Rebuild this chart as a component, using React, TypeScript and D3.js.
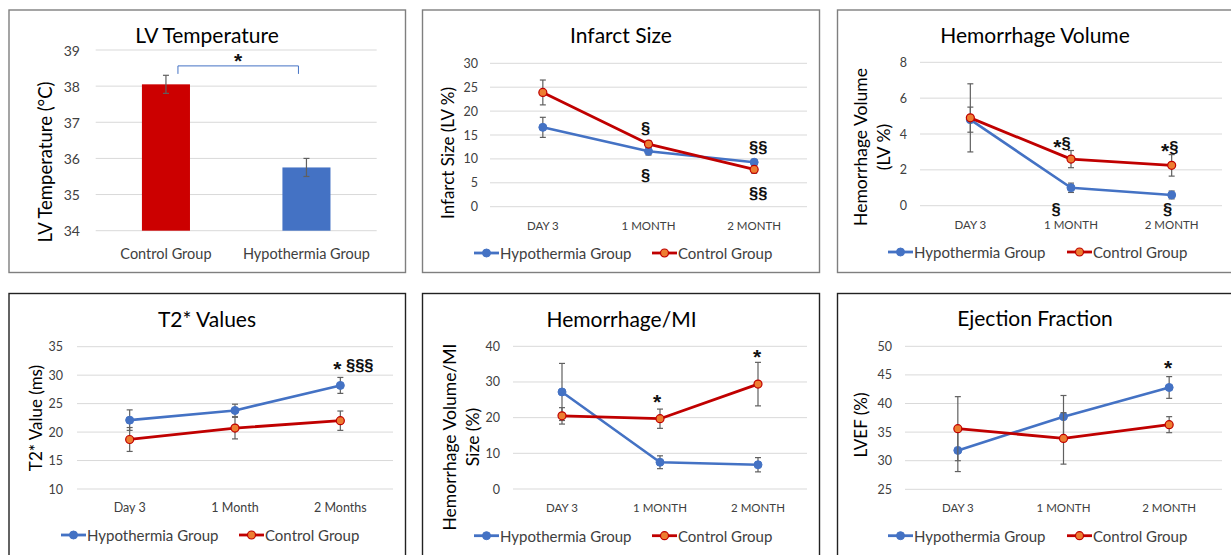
import React from 'react';
import * as d3 from 'd3';

// ---- data ----
const monthCats = ['DAY 3', '1 MONTH', '2 MONTH'];
const t2Cats = ['Day 3', '1 Month', '2 Months'];
const seriesNames = ['Hypothermia Group', 'Control Group'];

const lvGroups = ['Control Group', 'Hypothermia Group'];
const lvTemp = [38.05, 35.75];
const lvTempErr = [0.25, 0.25];
const lvTicks = [34, 35, 36, 37, 38, 39];

const infarctHypo = [16.6, 11.6, 9.3];
const infarctHypoErr = [2.1, 0.8, 0.6];
const infarctCtrl = [23.9, 13.1, 7.8];
const infarctCtrlErr = [2.6, 0.7, 0.8];
const infarctTicks = [0, 5, 10, 15, 20, 25, 30];

const hemVolHypo = [4.8, 1.0, 0.6];
const hemVolHypoErr = [0.7, 0.26, 0.22];
const hemVolCtrl = [4.9, 2.6, 2.25];
const hemVolCtrlErr = [1.9, 0.48, 0.6];
const hemVolTicks = [0, 2, 4, 6, 8];

const t2Hypo = [22.1, 23.8, 28.2];
const t2HypoErr = [1.8, 1.1, 1.4];
const t2Ctrl = [18.7, 20.7, 22.0];
const t2CtrlErr = [2.1, 1.9, 1.7];
const t2Ticks = [10, 15, 20, 25, 30, 35];

const hemMiHypo = [27.2, 7.5, 6.8];
const hemMiHypoErr = [8.0, 1.8, 2.0];
const hemMiCtrl = [20.5, 19.7, 29.4];
const hemMiCtrlErr = [2.3, 2.7, 6.1];
const hemMiTicks = [0, 10, 20, 30, 40];

const efHypo = [31.8, 37.7, 42.8];
const efHypoErr = [3.7, 3.7, 1.9];
const efCtrl = [35.6, 33.9, 36.3];
const efCtrlErr = [5.6, 4.5, 1.4];
const efTicks = [25, 30, 35, 40, 45, 50];

// significance marks: [category index, y value, text]
const infarctMarks: [number, number, string][] = [[1, 16.5, '§'], [1, 6.6, '§'], [2, 12.5, '§§'], [2, 2.9, '§§']];
const hemVolMarks: [number, number, string][] = [[1, 3.5, '*§'], [2, 3.27, '*§'], [1, -0.2, '§'], [2, -0.2, '§']];
const t2Marks: [number, number, string][] = [[2, 31.7, '* §§§']];
const hemMiMarks: [number, number, string][] = [[1, 25.5, '*'], [2, 38.2, '*']];
const efMarks: [number, number, string][] = [[2, 46.9, '*']];

// ---- styling ----
const FONT = "Lato, 'Open Sans', sans-serif";
const MARKFONT = "'Liberation Sans', Arial, sans-serif";
const BLUE = '#4472C4';
const RED = '#C00000';
const ORANGE = '#ED7D31';
const GRID = '#d9d9d9';
const ERR = '#606060';
const TXT = '#000';
const TICK = '#404040';

const Frame = ({ x, y, w, h, stroke }) => (
  <rect x={x} y={y} width={w} height={h} fill="white" stroke={stroke} strokeWidth={1.4} />
);

const Marker = ({ cx, cy, ctrl }) =>
  ctrl ? <circle cx={cx} cy={cy} r={4} fill={ORANGE} stroke={RED} strokeWidth={1.2} />
       : <circle cx={cx} cy={cy} r={4} fill={BLUE} stroke={BLUE} strokeWidth={1} />;

const YTitle = ({ x, y, lines, size }) => (
  <text transform={`translate(${x},${y}) rotate(-90)`} textAnchor="middle" fontSize={size} fill={TXT} fontFamily={FONT}>
    {lines.map((l, i) => (
      <tspan key={i} x={0} dy={i === 0 ? `${-(lines.length - 1) * 0.65 + 0.35}em` : '1.3em'}>{l}</tspan>
    ))}
  </text>
);

const Mark = ({ x, y, text }) => (
  <text x={x} y={y} textAnchor="middle" dominantBaseline="central" fontSize={16.5} fontWeight="bold"
    fontFamily={MARKFONT} fill="#111">
    {text.split('').map((ch, i) =>
      ch === '*' ? <tspan key={i} fontSize={21} dy={i === 0 ? 3 : 0}>*</tspan>
                 : <tspan key={i} dy={i > 0 && text[i - 1] === '*' ? -3 : 0}>{ch}</tspan>
    )}
  </text>
);

const LinePanel = ({ cfg }) => {
  const { cats, hypo, hypoErr, ctrl, ctrlErr, ticks, marks, plot, title, ytitle, legend, tickRight } = cfg;
  const x = d3.scalePoint().domain(cats).range([plot.x0, plot.x1]).padding(0.5);
  const y = d3.scaleLinear().domain([ticks[0], ticks[ticks.length - 1]]).range([plot.y1, plot.y0]);
  const line = d3.line<number>().x((_, i) => x(cats[i])).y(d => y(d));
  const series = [
    { vals: hypo, err: hypoErr, color: BLUE, w: 2.6, ctrl: false },
    { vals: ctrl, err: ctrlErr, color: RED, w: 2.8, ctrl: true },
  ];
  return (
    <g fontFamily={FONT}>
      <Frame {...cfg.frame} />
      <text x={title.x} y={title.y} textAnchor="middle" dominantBaseline="central" fontSize={21} fill={TXT}>{title.text}</text>
      {ticks.map(t => (
        <g key={t}>
          <line x1={plot.x0} x2={plot.x1} y1={y(t)} y2={y(t)} stroke={GRID} strokeWidth={1} />
          <text x={tickRight} y={y(t)} textAnchor="end" dominantBaseline="central" fontSize={12.5} fill={TICK}>{t}</text>
        </g>
      ))}
      {cats.map(c => (
        <text key={c} x={x(c)} y={cfg.xlabY} textAnchor="middle" dominantBaseline="central" fontSize={cfg.xlabSize} fill={TICK}>{c}</text>
      ))}
      <YTitle x={ytitle.x} y={ytitle.y} lines={ytitle.lines} size={ytitle.size} />
      {series.map((s, si) => (
        <g key={si}>
          <path d={line(s.vals)} fill="none" stroke={s.color} strokeWidth={s.w} strokeLinejoin="round" />
          {s.vals.map((v, i) => {
            const cx = x(cats[i]);
            const top = y(v + s.err[i]);
            const bot = y(v - s.err[i]);
            return (
              <g key={i} stroke={ERR} strokeWidth={1.2}>
                <line x1={cx} x2={cx} y1={top} y2={bot} />
                <line x1={cx - 3} x2={cx + 3} y1={top} y2={top} />
                <line x1={cx - 3} x2={cx + 3} y1={bot} y2={bot} />
              </g>
            );
          })}
          {s.vals.map((v, i) => <Marker key={i} cx={x(cats[i])} cy={y(v)} ctrl={s.ctrl} />)}
        </g>
      ))}
      {marks.map(([ci, v, t], i) => (
        <Mark key={i} x={x(cats[ci]) + (cfg.markDx ? cfg.markDx[i] : 0)} y={y(v)} text={t} />
      ))}
      {seriesNames.map((n, i) => {
        const lx = legend.x[i];
        return (
          <g key={n}>
            <line x1={lx} x2={lx + 25} y1={legend.y} y2={legend.y} stroke={i === 0 ? BLUE : RED} strokeWidth={2.8} />
            <Marker cx={lx + 12.5} cy={legend.y} ctrl={i === 1} />
            <text x={lx + 26} y={legend.y} dominantBaseline="central" fontSize={15} fill={TICK}>{n}</text>
          </g>
        );
      })}
    </g>
  );
};

const BarPanel = () => {
  const plot = { x0: 95.7, x1: 376.7, y0: 50, y1: 230.7 };
  const x = d3.scalePoint().domain(lvGroups).range([plot.x0, plot.x1]).padding(0.5);
  const y = d3.scaleLinear().domain([34, 39]).range([plot.y1, plot.y0]);
  const bw = x.step() * 0.342;
  const colors = ['#CC0000', BLUE];
  const bl = x(lvGroups[0]) + 12;
  const br = x(lvGroups[1]) - 8;
  const by = y(38.56);
  return (
    <g fontFamily={FONT}>
      <Frame x={9} y={10} w={396.5} h={262.5} stroke="#7f7f7f" />
      <text x={207} y={34} textAnchor="middle" dominantBaseline="central" fontSize={21} fill={TXT}>LV Temperature</text>
      {lvTicks.map(t => (
        <g key={t}>
          <line x1={plot.x0} x2={plot.x1} y1={y(t)} y2={y(t)} stroke={GRID} strokeWidth={1} />
          <text x={80} y={y(t)} textAnchor="end" dominantBaseline="central" fontSize={14} fill={TICK}>{t}</text>
        </g>
      ))}
      {lvGroups.map((g, i) => (
        <g key={g}>
          <rect x={x(g) - bw / 2} y={y(lvTemp[i])} width={bw} height={y(34) - y(lvTemp[i])} fill={colors[i]} />
          <g stroke={ERR} strokeWidth={1.2}>
            <line x1={x(g)} x2={x(g)} y1={y(lvTemp[i] + lvTempErr[i])} y2={y(lvTemp[i] - lvTempErr[i])} />
            <line x1={x(g) - 3} x2={x(g) + 3} y1={y(lvTemp[i] + lvTempErr[i])} y2={y(lvTemp[i] + lvTempErr[i])} />
            <line x1={x(g) - 3} x2={x(g) + 3} y1={y(lvTemp[i] - lvTempErr[i])} y2={y(lvTemp[i] - lvTempErr[i])} />
          </g>
          <text x={x(g)} y={253} textAnchor="middle" dominantBaseline="central" fontSize={14.5} fill={TICK}>{g}</text>
        </g>
      ))}
      <path d={`M${bl},${by + 8}V${by}H${br}V${by + 8}`} fill="none" stroke={BLUE} strokeWidth={1} />
      <Mark x={(bl + br) / 2} y={by - 9} text="*" />
      <YTitle x={46} y={162} lines={['LV Temperature (°C)']} size={18.5} />
    </g>
  );
};

const panels = [
  {
    frame: { x: 422.5, y: 10, w: 397, h: 262.5, stroke: '#7f7f7f' },
    cats: monthCats, hypo: infarctHypo, hypoErr: infarctHypoErr, ctrl: infarctCtrl, ctrlErr: infarctCtrlErr,
    ticks: infarctTicks, marks: infarctMarks, markDx: [-3, -3, 4, 4],
    plot: { x0: 490, x1: 807, y0: 63.3, y1: 206.7 }, tickRight: 478,
    title: { x: 621, y: 34, text: 'Infarct Size' },
    ytitle: { x: 448, y: 153, lines: ['Infarct Size (LV %)'], size: 17 },
    xlabY: 225, xlabSize: 11.5, legend: { x: [474, 652], y: 253 },
  },
  {
    frame: { x: 837.5, y: 10, w: 420, h: 262.5, stroke: '#7f7f7f' },
    cats: monthCats, hypo: hemVolHypo, hypoErr: hemVolHypoErr, ctrl: hemVolCtrl, ctrlErr: hemVolCtrlErr,
    ticks: hemVolTicks, marks: hemVolMarks, markDx: [-9, -2, -15, -4],
    plot: { x0: 920, x1: 1222, y0: 62.3, y1: 205.7 }, tickRight: 907,
    title: { x: 1035, y: 34, text: 'Hemorrhage Volume' },
    ytitle: { x: 872, y: 147, lines: ['Hemorrhage Volume', '(LV %)'], size: 17.5 },
    xlabY: 224, xlabSize: 11.5, legend: { x: [888, 1067], y: 252 },
  },
  {
    frame: { x: 9, y: 293.5, w: 396.5, h: 280, stroke: '#222' },
    cats: t2Cats, hypo: t2Hypo, hypoErr: t2HypoErr, ctrl: t2Ctrl, ctrlErr: t2CtrlErr,
    ticks: t2Ticks, marks: t2Marks, markDx: [13],
    plot: { x0: 77, x1: 393, y0: 346.7, y1: 489 }, tickRight: 63,
    title: { x: 207, y: 318, text: 'T2* Values' },
    ytitle: { x: 36, y: 418, lines: ['T2* Value (ms)'], size: 17 },
    xlabY: 507.7, xlabSize: 12.5, legend: { x: [61, 239], y: 535 },
  },
  {
    frame: { x: 422.5, y: 293.5, w: 397, h: 280, stroke: '#222' },
    cats: monthCats, hypo: hemMiHypo, hypoErr: hemMiHypoErr, ctrl: hemMiCtrl, ctrlErr: hemMiCtrlErr,
    ticks: hemMiTicks, marks: hemMiMarks, markDx: [-3, -1],
    plot: { x0: 513, x1: 807, y0: 346.3, y1: 489 }, tickRight: 500,
    title: { x: 621.5, y: 318, text: 'Hemorrhage/MI' },
    ytitle: { x: 461, y: 437, lines: ['Hemorrhage Volume/MI', 'Size (%)'], size: 17.5 },
    xlabY: 507.7, xlabSize: 11.5, legend: { x: [474, 652], y: 535.7 },
  },
  {
    frame: { x: 837.5, y: 293.5, w: 420, h: 280, stroke: '#222' },
    cats: monthCats, hypo: efHypo, hypoErr: efHypoErr, ctrl: efCtrl, ctrlErr: efCtrlErr,
    ticks: efTicks, marks: efMarks, markDx: [-1],
    plot: { x0: 905, x1: 1222, y0: 346.3, y1: 489.3 }, tickRight: 892,
    title: { x: 1035, y: 317, text: 'Ejection Fraction' },
    ytitle: { x: 861, y: 425, lines: ['LVEF (%)'], size: 17 },
    xlabY: 507.7, xlabSize: 11.5, legend: { x: [888, 1067], y: 535.7 },
  },
];

export default function App() {
  return (
    <svg width={1231} height={555} style={{ position: 'absolute', left: 0, top: 0, background: 'white' }}>
      <rect width={1231} height={555} fill="white" />
      <BarPanel />
      {panels.map((p, i) => <LinePanel key={i} cfg={p} />)}
    </svg>
  );
}
